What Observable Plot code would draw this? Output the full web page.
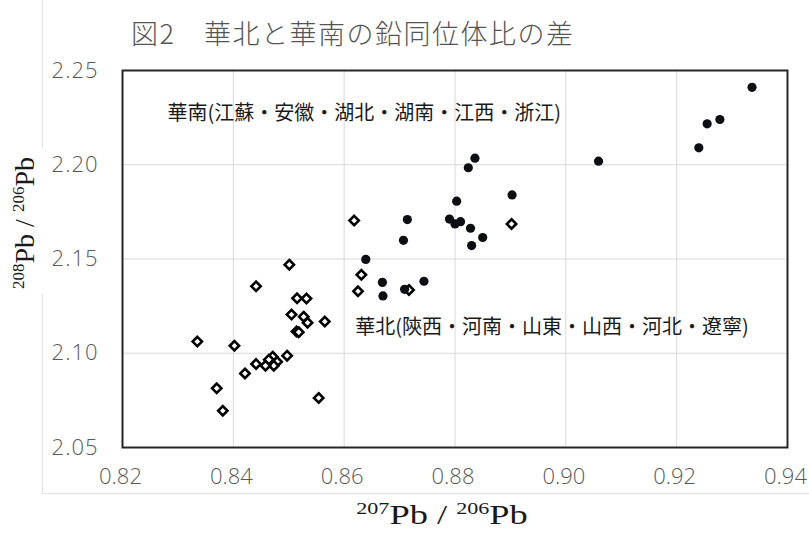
<!DOCTYPE html>
<html><head><meta charset="utf-8">
<script src="https://cdn.jsdelivr.net/npm/d3@7"></script>
<script src="https://cdn.jsdelivr.net/npm/@observablehq/plot@0.6"></script>
<style>
body{margin:0;background:#fff;}
#wrap{position:relative;width:809px;height:536px;overflow:hidden;background:#fff;}
#area{position:absolute;left:42px;top:-2px;width:767px;height:495px;border-left:1px solid #e2e2e2;border-bottom:1px solid #e2e2e2;}
#chart{position:absolute;left:0;top:0;}
#title{position:absolute;left:131px;top:13px;font-family:"Noto Sans CJK JP";font-weight:300;font-size:27px;letter-spacing:1.5px;color:#555;white-space:nowrap;line-height:40px;}
[aria-label="y-axis tick label"] text{letter-spacing:1px;}
[aria-label="annot"] text{letter-spacing:1.5px;}
</style></head>
<body>
<div id="wrap"><div id="area"></div><div id="chart"></div><div id="title">図2　華北と華南の鉛同位体比の差</div></div>
<script>
// 華南 (filled dots)
const southX = [0.8639,0.8669,0.8670,0.8709,0.8744,0.8707,0.8714,0.8790,0.8800,0.8810,0.8803,0.8824,0.8836,0.8828,0.8850,0.8830,0.8903,0.9059,0.9240,0.9255,0.9278,0.9336];
const southY = [2.1498,2.1376,2.1304,2.1339,2.1382,2.1599,2.1709,2.1712,2.1686,2.1698,2.1807,2.1984,2.2035,2.1663,2.1614,2.1571,2.1840,2.2019,2.2090,2.2217,2.2240,2.2411];
// 華北 (open diamonds)
const northX = [0.8618,0.8501,0.8441,0.8631,0.8625,0.8717,0.8515,0.8532,0.8505,0.8527,0.8534,0.8565,0.8514,0.8518,0.8335,0.8402,0.8497,0.8471,0.8479,0.8464,0.8473,0.8458,0.8441,0.8421,0.8370,0.8554,0.8381,0.8902];
const northY = [2.1704,2.1470,2.1355,2.1416,2.1329,2.1336,2.1292,2.1290,2.1205,2.1194,2.1162,2.1168,2.1116,2.1112,2.1062,2.1040,2.0987,2.0982,2.0955,2.0966,2.0934,2.0934,2.0943,2.0893,2.0814,2.0763,2.0695,2.1686];
// annotations
const annotText = ["華南(江蘇・安徽・湖北・湖南・江西・浙江)", "華北(陝西・河南・山東・山西・河北・遼寧)"];
const annotX = [0.8281, 0.8620];
const annotY = [2.2272, 2.1136];
// ticks
const xTicks = [0.82,0.84,0.86,0.88,0.90,0.92,0.94];
const yTicks = [2.05,2.10,2.15,2.20,2.25];

const south = southX.map((x,i)=>({x, y: southY[i]}));
const north = northX.map((x,i)=>({x, y: northY[i]}));
const annots = annotText.map((t,i)=>({t, x: annotX[i], y: annotY[i]}));
const fmt = d3.format(".2f");

const svg = Plot.plot({
  width: 809, height: 536,
  marginLeft: 122, marginRight: 22, marginTop: 70, marginBottom: 89,
  style: {fontFamily: "'Open Sans', sans-serif", fontSize: "22px", color: "#595959", background: "transparent"},
  x: {domain: [0.82, 0.94]},
  y: {domain: [2.05, 2.25]},
  marks: [
    Plot.gridX(xTicks, {stroke: "#d9d9d9", strokeOpacity: 1, strokeWidth: 1}),
    Plot.gridY(yTicks, {stroke: "#d9d9d9", strokeOpacity: 1, strokeWidth: 1}),
    Plot.axisX({ticks: xTicks, tickFormat: fmt, tickSize: 0, tickPadding: 21, dx: -2, label: null, fontSize: 22, fontWeight: 300}),
    Plot.axisY({ticks: yTicks, tickFormat: fmt, tickSize: 0, tickPadding: 24, label: null, fontSize: 22, fontWeight: 300}),
    Plot.frame({stroke: "#262626", strokeWidth: 2}),
    Plot.text(annots, {x: "x", y: "y", text: "t", textAnchor: "start", fontSize: 20, fontFamily: "'Noto Sans CJK JP'", fill: "#1a1a1a", ariaLabel: "annot"}),
    Plot.dot(north, {x: "x", y: "y", symbol: "diamond2", r: 4.2, stroke: "#000", strokeWidth: 2.6, fill: "#fff"}),
    Plot.dot(south, {x: "x", y: "y", r: 4.6, fill: "#0d0d14", stroke: "none"})
  ]
});

const s = d3.select(svg);
// white box behind y-axis title (covers outer chart-area border)
s.insert("rect", ":first-child").attr("x", 4).attr("y", 148).attr("width", 40).attr("height", 146).attr("fill", "#fff");
// y-axis title
const yt = s.append("text")
  .attr("transform", "translate(34,223) rotate(-90)")
  .attr("text-anchor", "middle")
  .attr("font-family", "'Liberation Serif', serif").attr("font-size", 28).attr("fill", "#1a1a1a");
yt.append("tspan").attr("font-size", 17).attr("dy", -10).text("208");
yt.append("tspan").attr("dy", 10).text("Pb / ");
yt.append("tspan").attr("font-size", 17).attr("dy", -10).text("206");
yt.append("tspan").attr("dy", 10).text("Pb");
// x-axis title
const xt = s.append("text")
  .attr("transform", "translate(442,524) scale(1.3,1)")
  .attr("text-anchor", "middle")
  .attr("font-family", "'Liberation Serif', serif").attr("font-size", 28).attr("fill", "#1a1a1a");
xt.append("tspan").attr("font-size", 17).attr("dy", -10).text("207");
xt.append("tspan").attr("dy", 10).text("Pb / ");
xt.append("tspan").attr("font-size", 17).attr("dy", -10).text("206");
xt.append("tspan").attr("dy", 10).text("Pb");

document.getElementById("chart").appendChild(svg);
</script>
</body></html>
